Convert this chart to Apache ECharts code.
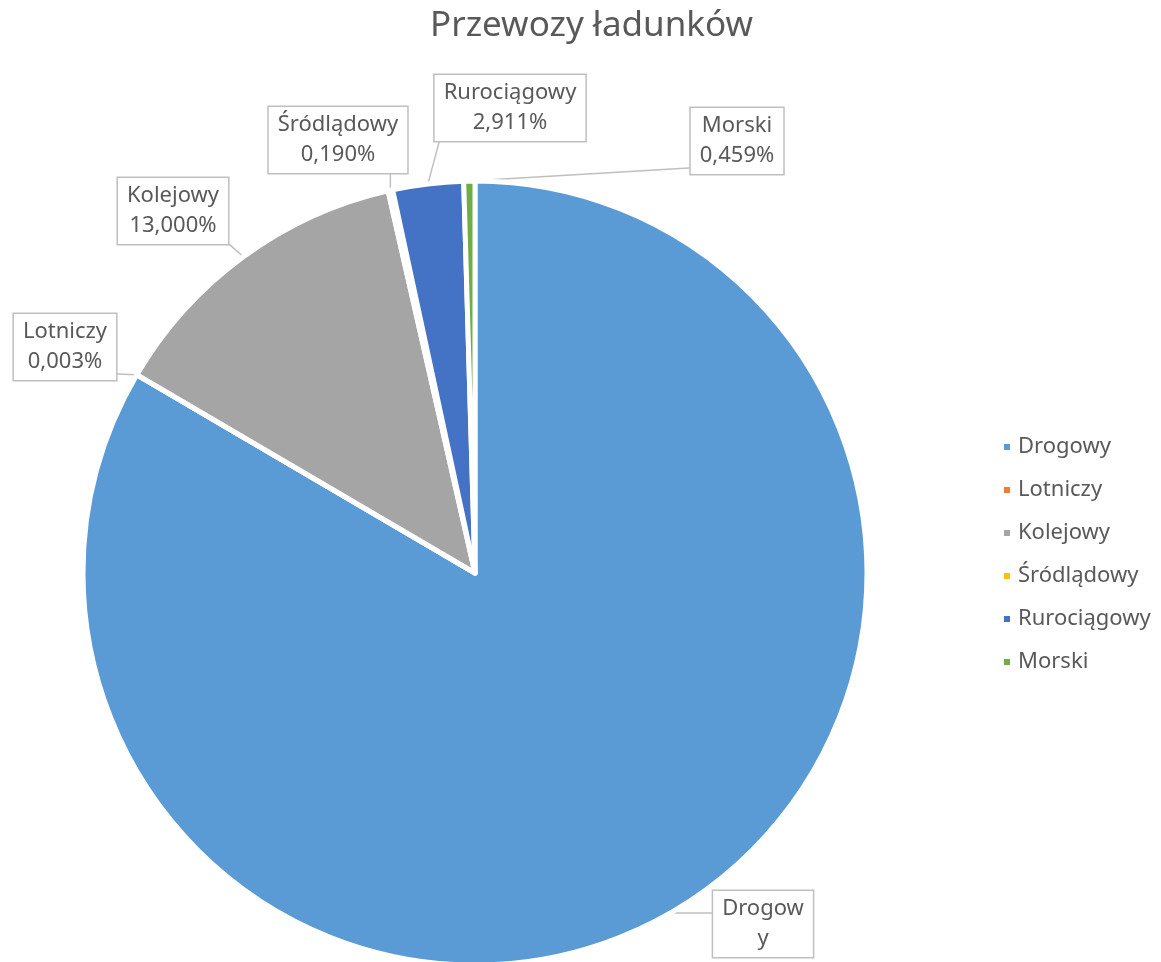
<!DOCTYPE html>
<html>
<head>
<meta charset="utf-8">
<script src="https://cdn.jsdelivr.net/npm/echarts@6/dist/echarts.min.js"></script>
<style>
html,body{margin:0;padding:0;background:#fff;}
#chart{width:1161px;height:962px;}
</style>
</head>
<body>
<div id="chart"></div>
<script>
// ---- data ----
const categories = ['Drogowy', 'Lotniczy', 'Kolejowy', 'Śródlądowy', 'Rurociągowy', 'Morski'];
const shares = [83.437, 0.003, 13.000, 0.190, 2.911, 0.459];
const colors = ['#5B9BD5', '#ED7D31', '#A5A5A5', '#FFC000', '#4472C4', '#70AD47'];
const titleText = 'Przewozy ładunków';

// ---- label placement (style) ----
const labelCenters = {
  'Drogowy': [763, 924],
  'Lotniczy': [65, 347],
  'Kolejowy': [173, 211],
  'Śródlądowy': [338, 140],
  'Rurociągowy': [510, 108],
  'Morski': [737, 141]
};

const FONT = "'Noto Sans', 'Open Sans', sans-serif";
const chart = echarts.init(document.getElementById('chart'));

const data = categories.map((c, i) => ({
  name: c, value: shares[i], itemStyle: { color: colors[i] }
}));

chart.setOption({
  animation: false,
  title: {
    text: titleText, left: 425, top: 4,
    textStyle: { fontFamily: FONT, fontSize: 35, fontWeight: 'normal', color: '#595959' }
  },
  legend: {
    orient: 'vertical', left: 997, top: 431,
    icon: 'rect', itemWidth: 8, itemHeight: 8, itemGap: 21,
    data: categories,
    textStyle: { fontFamily: FONT, fontSize: 22, color: '#595959', padding: [0, 0, 0, 2] }
  },
  series: [{
    type: 'pie',
    center: [475, 573],
    radius: 392,
    startAngle: 90,
    clockwise: true,
    avoidLabelOverlap: false,
    data: data,
    itemStyle: { borderColor: '#fff', borderWidth: 5 },
    label: {
      show: true,
      position: 'outside',
      fontFamily: FONT, fontSize: 22, color: '#595959',
      lineHeight: 30,
      backgroundColor: '#fff',
      borderColor: '#BFBFBF', borderWidth: 1.5,
      padding: [3, 9, 3, 9],
      align: 'center',
      formatter: function (p) {
        if (p.name === 'Drogowy') return 'Drogow\ny';
        return p.name + '\n' + p.value.toFixed(3).replace('.', ',') + '%';
      }
    },
    labelLine: {
      show: true, length: 10, length2: 10,
      lineStyle: { color: '#BFBFBF', width: 1.5 }
    },
    labelLayout: function (params) {
      const name = categories[params.dataIndex];
      const c = labelCenters[name];
      const w = params.labelRect.width, h = params.labelRect.height;
      const left = c[0] - w / 2, right = c[0] + w / 2;
      const top = c[1] - h / 2, bottom = c[1] + h / 2;
      const a = params.labelLinePoints ? params.labelLinePoints[0] : [c[0], c[1]];
      const ex = Math.min(Math.max(a[0], left + 8), right - 8);
      const ey = Math.min(Math.max(a[1], top + 8), bottom - 8);
      return {
        x: c[0], y: c[1], align: 'center', verticalAlign: 'middle',
        labelLinePoints: [a, [(a[0] + ex) / 2, (a[1] + ey) / 2], [ex, ey]]
      };
    }
  }]
});
</script>
</body>
</html>
